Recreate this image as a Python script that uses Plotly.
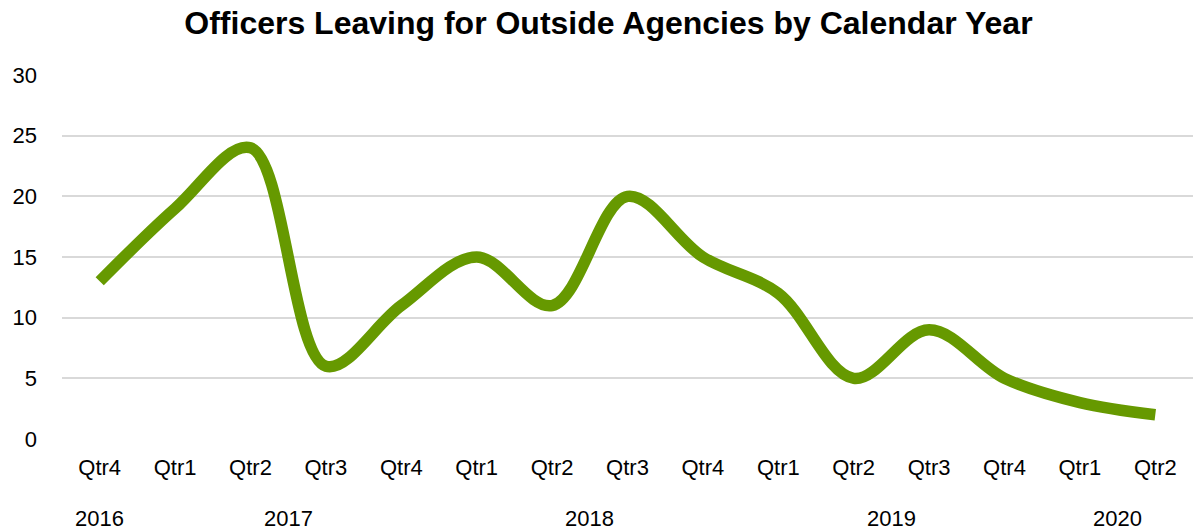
import plotly.graph_objects as go

years = ["2016", "2017", "2017", "2017", "2017", "2018", "2018", "2018", "2018",
         "2019", "2019", "2019", "2019", "2020", "2020"]
quarters = ["Qtr4", "Qtr1", "Qtr2", "Qtr3", "Qtr4", "Qtr1", "Qtr2", "Qtr3", "Qtr4",
            "Qtr1", "Qtr2", "Qtr3", "Qtr4", "Qtr1", "Qtr2"]
officers = [13, 19, 24, 6, 11, 15, 11, 20, 15, 12, 5, 9, 5, 3, 2]

idx = list(range(len(quarters)))

fig = go.Figure()
fig.add_trace(go.Scatter(
    x=idx, y=officers, mode="lines",
    line=dict(color="#669900", width=11.5, shape="spline", smoothing=1.0),
    hoverinfo="skip",
))

# year group labels centred beneath their quarters
groups = {}
for i, yv in zip(idx, years):
    groups.setdefault(yv, []).append(i)
for yv, members in groups.items():
    fig.add_annotation(x=sum(members) / len(members), xref="x", y=0, yref="paper",
                       yshift=-79, yanchor="middle", text=yv, showarrow=False,
                       font=dict(size=22, color="#000000"))

fig.update_layout(
    width=1193, height=532,
    paper_bgcolor="white", plot_bgcolor="white",
    margin=dict(l=62, r=0, t=75, b=93),
    font=dict(family="Liberation Sans, Arial, sans-serif", size=22, color="#000000"),
    title=dict(text="<b>Officers Leaving for Outside Agencies by Calendar Year</b>",
               x=0.51, xanchor="center", y=0.958, yanchor="middle",
               font=dict(size=32, color="#000000")),
    showlegend=False,
)
fig.update_xaxes(range=[-0.5, len(idx) - 0.5], tickvals=idx, ticktext=quarters,
                 showgrid=False, showline=False, zeroline=False, ticks="",
                 ticklabelstandoff=13, tickfont=dict(size=22, color="#000000"))
fig.update_yaxes(range=[0, 30], dtick=5, showgrid=True, gridcolor="#d9d9d9", gridwidth=1.5,
                 zeroline=False, showline=False, ticks="", ticklabelstandoff=24,
                 tickfont=dict(size=22, color="#000000"))

fig.write_html("out.html")
